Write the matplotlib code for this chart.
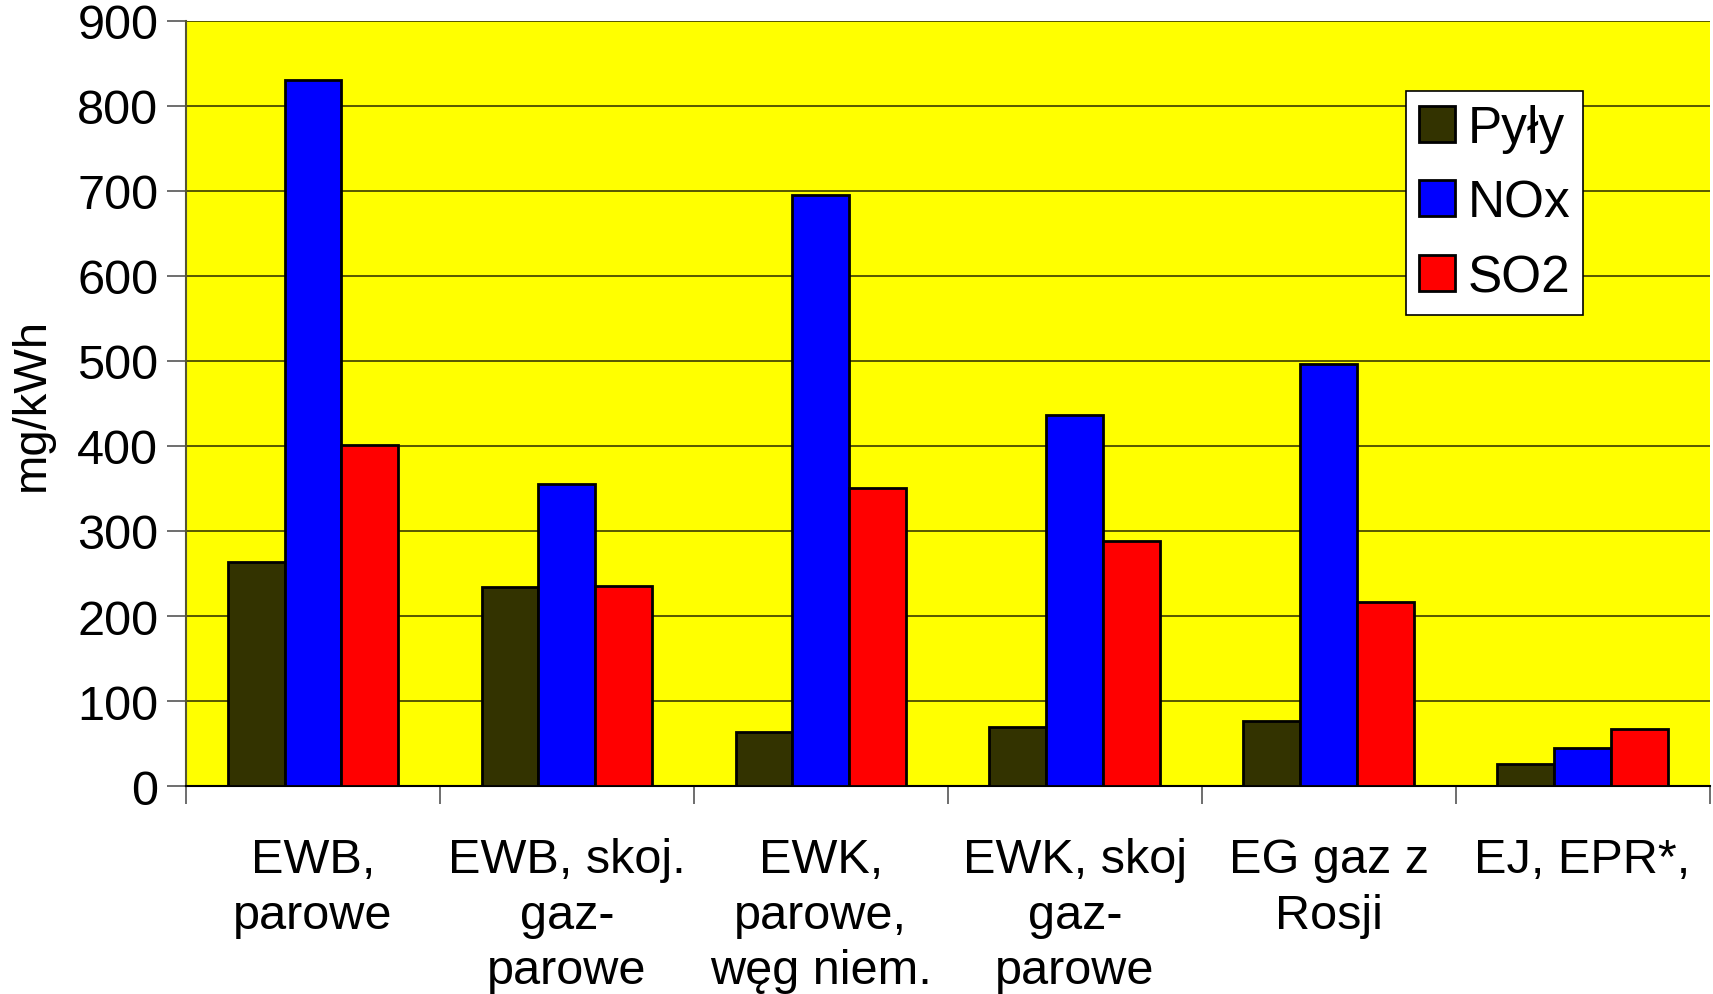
import matplotlib.pyplot as plt
import numpy as np

plt.rcParams['font.family'] = ['Liberation Sans', 'DejaVu Sans']

categories = ["EWB,\nparowe", "EWB, skoj.\ngaz-\nparowe", "EWK,\nparowe,\nwęg niem.",
              "EWK, skoj\ngaz-\nparowe", "EG gaz z\nRosji", "EJ, EPR*,"]
pyly = [263, 234, 64, 69, 76, 26]
nox = [830, 355, 695, 436, 497, 45]
so2 = [401, 235, 351, 288, 216, 67]

series = [("Pyły", pyly, "#333300"), ("NOx", nox, "#0000ff"), ("SO2", so2, "#ff0000")]

fig = plt.figure(figsize=(17.13, 9.95), dpi=100)
ax = fig.add_axes([0.1086, 0.209, 0.8894, 0.769])
ax.set_facecolor("#ffff00")

x = np.arange(len(categories)) + 0.5
w = 0.224
for i, (name, vals, col) in enumerate(series):
    ax.bar(x + (i - 1) * w, vals, w, color=col, edgecolor="black", linewidth=2,
           label=name, zorder=3)

ax.set_xlim(0, len(categories))
ax.set_ylim(0, 900)
ax.set_yticks(np.arange(0, 901, 100))
ax.yaxis.grid(True, color="#3a3a00", linewidth=1.2, zorder=1)

# boundaries get tick marks, labels sit at the group centres
ax.set_xticks(np.arange(len(categories) + 1))
ax.set_xticklabels([])
ax.set_xticks(x, minor=True)
ax.set_xticklabels(categories, minor=True, fontsize=35, linespacing=1.3)
ax.tick_params(axis="x", which="major", length=13, width=1.2, color="#555555")
ax.tick_params(axis="x", which="minor", length=0, pad=37)
ax.tick_params(axis="y", length=14, width=1.2, color="#555555", labelsize=35, pad=6)

for s in ["top", "right"]:
    ax.spines[s].set_visible(False)
ax.spines["left"].set_color("#555533")
ax.spines["left"].set_linewidth(1.5)
ax.spines["bottom"].set_color("black")
ax.spines["bottom"].set_linewidth(1.5)

ax.set_ylabel("mg/kWh", fontsize=34)
ax.yaxis.set_label_coords(-0.087, 0.5)

leg = ax.legend(loc="upper right", bbox_to_anchor=(0.917, 0.9085), fontsize=37,
                frameon=True, fancybox=False, edgecolor="black", framealpha=1,
                handlelength=0.7, handleheight=0.7, handletextpad=0.25,
                labelspacing=0.5, borderpad=0.25, borderaxespad=0)
leg.get_frame().set_linewidth(1.2)

fig.savefig("out.png", dpi=100)
